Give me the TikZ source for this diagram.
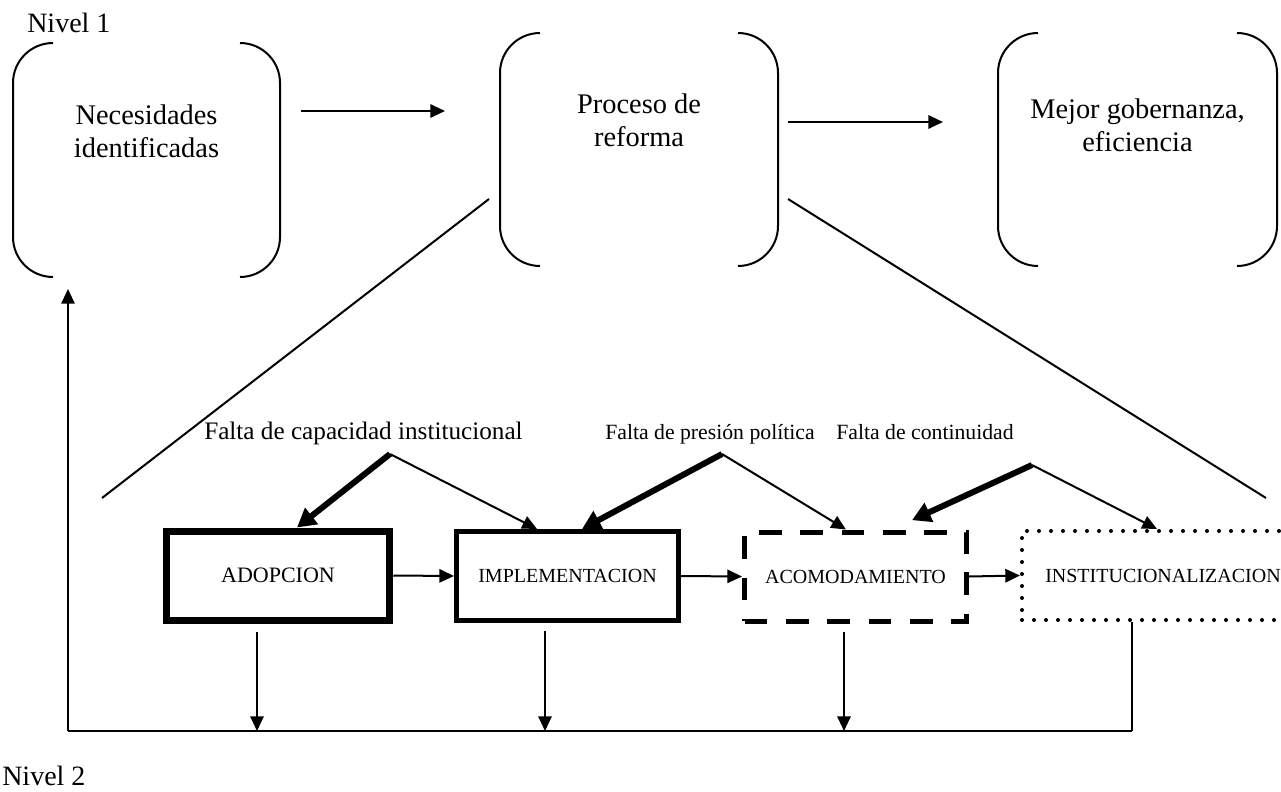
\documentclass[tikz,border=0pt]{standalone}
\usepackage{fontspec}
\setmainfont{Liberation Serif}
\usetikzlibrary{arrows.meta,calc}
\newcommand\drawparens[1]{%
  \draw[thinline,rounded corners=30pt] ([xshift=30pt]#1.north west) -- (#1.north west) -- (#1.south west) -- ([xshift=30pt]#1.south west);
  \draw[thinline,rounded corners=30pt] ([xshift=-30pt]#1.north east) -- (#1.north east) -- (#1.south east) -- ([xshift=-30pt]#1.south east);}
\begin{document}
\begin{tikzpicture}[x=0.75pt,y=-0.75pt,
  thinline/.style={line width=1.5pt},
  thickline/.style={line width=4.5pt},
  tip/.style={-{Triangle[length=11pt,width=10pt]}},
  bigtip/.style={-{Triangle[length=14pt,width=15pt]}},
  parenbox/.style={draw=none,inner sep=0pt,outer sep=0pt},
  toptext/.style={align=center,inner sep=0pt,font=\fontsize{21.3pt}{24.75pt}\selectfont},
  leveltext/.style={inner sep=0pt,anchor=base west,font=\fontsize{21pt}{24pt}\selectfont},
  labeltext/.style={inner sep=0pt,anchor=base west,font=\fontsize{18.9pt}{22pt}\selectfont},
  smalllabel/.style={labeltext,font=\fontsize{16.3pt}{19pt}\selectfont},
  stagebox/.style={draw,inner sep=0pt,minimum width=222*0.75pt,minimum height=89*0.75pt,font=\fontsize{15pt}{18pt}\selectfont}]
\useasboundingbox (0,0) rectangle (1281,792);
\clip (0,0) rectangle (1281,792);

% level labels
\node[leveltext] (n1) at (27,33) {Nivel 1};
\node[leveltext] (n2) at (2,785) {Nivel 2};

% top brackets
\node[parenbox,minimum width=267*0.75pt,minimum height=234*0.75pt] (b1) at (146.5,160) {};
\node[parenbox,minimum width=278*0.75pt,minimum height=233*0.75pt] (b2) at (639,149.5) {};
\node[parenbox,minimum width=279*0.75pt,minimum height=233*0.75pt] (b3) at (1137.5,149.5) {};
\drawparens{b1}
\drawparens{b2}
\drawparens{b3}
\node[toptext] (t1) at (146.5,131) {Necesidades\\identificadas};
\node[toptext] (t2) at (639,120) {Proceso de\\reforma};
\node[toptext] (t3) at (1137.5,125) {Mejor gobernanza,\\eficiencia};

\coordinate (a1s) at (301,111);
\coordinate (a1e) at (445,111);
\coordinate (a2s) at (788,122);
\coordinate (a2e) at (943,122);
\draw[thinline,tip] (a1s) -- (a1e);
\draw[thinline,tip] (a2s) -- (a2e);

% fan lines
\coordinate (fl1) at (489,199);
\coordinate (fl2) at (102,498);
\coordinate (fr1) at (788,199);
\coordinate (fr2) at (1266,498);
\draw[thinline] (fl1) -- (fl2);
\draw[thinline] (fr1) -- (fr2);

% stage boxes
\node[stagebox,line width=5.25pt,minimum width=223.5*0.75pt,font=\fontsize{16.5pt}{19pt}\selectfont] (adop) at (278,575.5) {ADOPCION};
\node[stagebox,line width=3.75pt] (impl) at (567.5,576) {IMPLEMENTACION};
\node[stagebox,line width=3.75pt,dash pattern=on 17pt off 14pt] (acom) at (855.5,576.5) {ACOMODAMIENTO};
\node[stagebox,line width=3pt,line cap=round,dash pattern=on 0pt off 9pt,minimum width=282*0.75pt] (inst) at (1163,575.5) {INSTITUCIONALIZACION};

\draw[thinline,tip] (adop.east) -- (impl.west);
\draw[thinline,tip] (impl.east) -- (acom.west);
\draw[thinline,tip] (acom.east) -- (inst.west);

% obstacle labels
\node[labeltext] (f1) at (204,439) {Falta de capacidad institucional};
\node[smalllabel] (f2) at (605,439) {Falta de presión política};
\node[smalllabel] (f3) at (836,439) {Falta de continuidad};
\coordinate (v1) at (390,454);
\coordinate (v2) at (722,454);
\coordinate (v3) at (1032,465);

\draw[thickline,bigtip] (v1) -- ([xshift=19*0.75pt]adop.north);
\draw[thinline,tip] (v1) -- ([xshift=-30.5*0.75pt]impl.north);
\draw[thickline,bigtip] (v2) -- ([xshift=14.5*0.75pt]impl.north);
\draw[thinline,tip] (v2) -- ([xshift=-9.5*0.75pt]acom.north);
\draw[thickline,bigtip] (v3) -- ([xshift=56.5*0.75pt,yshift=7pt]acom.north);
\draw[thinline,tip] (v3) -- ([xshift=-6*0.75pt]inst.north);

% feedback bus
\coordinate (busL) at (68,731);
\coordinate (bus1) at (257,731);
\coordinate (bus2) at (545,731);
\coordinate (bus3) at (844,731);
\coordinate (busR) at (1132,731);
\draw[thinline,tip,shorten <=6pt] (adop.south -| bus1) -- (bus1);
\draw[thinline,tip,shorten <=6pt] (impl.south -| bus2) -- (bus2);
\draw[thinline,tip,shorten <=6pt] (acom.south -| bus3) -- (bus3);
\draw[thinline] (inst.south -| busR) -- (busR);
\draw[thinline] (busL) -- (busR);
\draw[thinline,tip,shorten >=9pt] (busL) -- (b1.south -| busL);
\end{tikzpicture}
\end{document}
